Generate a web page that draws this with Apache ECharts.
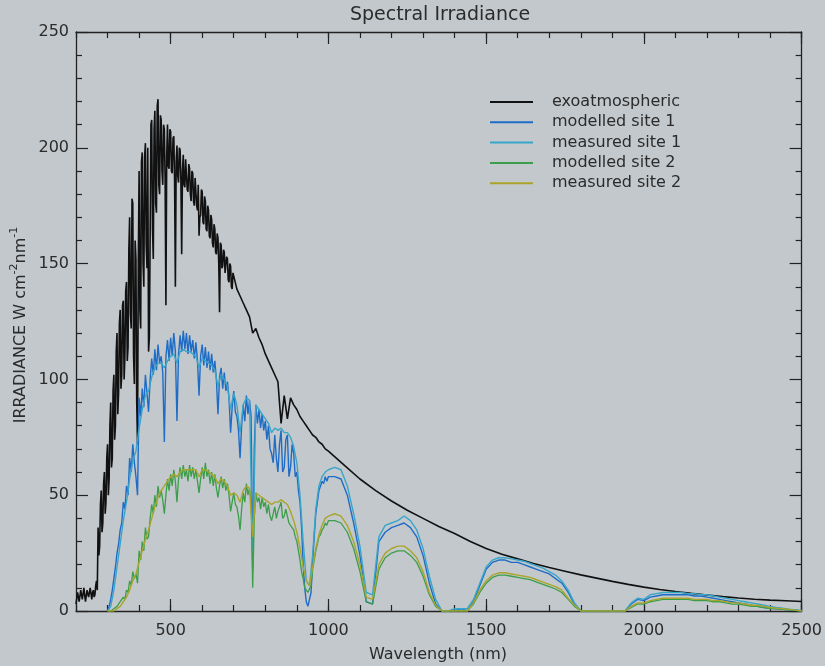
<!DOCTYPE html>
<html>
<head>
<meta charset="utf-8">
<script src="https://cdn.jsdelivr.net/npm/echarts@6/dist/echarts.min.js"></script>
<style>
html,body{margin:0;padding:0;background:#c3c8cc;}
#chart{width:825px;height:666px;}
</style>
</head>
<body>
<div id="chart"></div>
<script>
// ---------- text ----------
const chartTitle = 'Spectral Irradiance';
const xAxisName = 'Wavelength (nm)';
const seriesNames = ['exoatmospheric', 'modelled site 1', 'measured site 1', 'modelled site 2', 'measured site 2'];
const xTickLabels = [500, 1000, 1500, 2000, 2500];
const yTickLabels = [0, 50, 100, 150, 200, 250];

// ---------- exoatmospheric spectrum ----------
const wlExo = [
  200,205,210,215,220,225,230,235,240,245,
  250,252.5,255,257.5,260,262.5,265,267.5,270,272.5,
  275,277.5,280,282.5,285,287.5,290,292.5,295,297.5,
  300,302.5,305,307.5,310,312.5,315,317.5,320,322.5,
  325,327.5,330,332.5,335,337.5,340,342.5,345,347.5,
  350,352.5,355,357.5,360,362.5,365,367.5,370,372.5,
  375,377.5,380,382.5,385,387.5,390,392.5,395,397.5,
  400,402.5,405,407.5,410,412.5,415,417.5,420,422.5,
  425,427.5,430,432.5,435,437.5,440,442.5,445,447.5,
  450,452.5,455,457.5,460,462.5,465,467.5,470,472.5,
  475,477.5,480,482.5,485,487.5,490,492.5,495,497.5,
  500,502.5,505,507.5,510,512.5,515,517.5,520,522.5,
  525,527.5,530,532.5,535,537.5,540,542.5,545,547.5,
  550,552.5,555,557.5,560,562.5,565,567.5,570,572.5,
  575,577.5,580,582.5,585,587.5,590,592.5,595,597.5,
  600,602.5,605,607.5,610,612.5,615,617.5,620,622.5,
  625,627.5,630,632.5,635,637.5,640,642.5,645,647.5,
  650,652.5,655,657.5,660,662.5,665,667.5,670,672.5,
  675,677.5,680,682.5,685,687.5,690,692.5,695,697.5,
  700,710,720,730,740,750,760,770,780,790,
  800,810,820,830,840,850,860,870,880,890,
  900,910,920,930,940,950,960,970,980,990,
  1000,1050,1100,1150,1200,1250,1300,1350,1400,1450,
  1500,1550,1600,1650,1700,1750,1800,1850,1900,1950,
  2000,2050,2100,2150,2200,2250,2300,2350,2400,2450,
  2500
];
const exoatmospheric = [
  3,8,4,9,5,10,4,9,6,10,
  5,8,9,6,7,11,13,9,36,24,
  28,46,52,34,38,55,60,42,47,66,
  72,50,57,80,90,62,66,95,102,74,
  80,112,120,85,94,124,130,96,102,132,
  134,100,110,138,142,108,114,156,170,128,
  122,178,176,110,98,160,152,90,72,150,
  190,130,122,194,198,150,140,196,202,158,
  148,200,112,118,162,210,212,165,152,208,
  216,176,172,218,221,184,180,214,212,190,
  184,210,208,186,132,196,210,192,191,208,
  207,190,189,204,205,186,140,194,201,188,
  185,200,199,186,154,190,197,184,183,195,
  195,182,181,193,191,180,177,190,189,177,
  175,187,187,175,173,184,162,170,171,182,
  181,168,167,179,177,165,164,175,173,162,
  161,171,169,159,157,167,165,155,154,163,
  161,150,129,159,158,148,149,156,155,146,
  146,153,152,143,142,150,149,140,139,146,
  146,139,136,133,130,127,120,122,118,115,
  111,108,105,102,99,81,93,83,92,89,
  87,84,82,80,78,76,75,73,72,70,
  69,63,57,52,47.5,43.5,40,36.5,33.5,30,
  27,24.5,22.5,20.5,18.8,17.2,15.6,14.2,12.8,11.5,
  10.3,9.3,8.4,7.6,6.9,6.2,5.6,5.1,4.7,4.4,
  4.1
];

// ---------- modelled spectra (finer sampling) ----------
const wlModel = [
  300,305,310,315,320,325,330,335,340,345,
  350,355,360,365,370,375,380,385,390,395,
  400,405,410,415,420,425,430,435,440,445,
  450,455,460,465,470,475,480,485,490,495,
  500,505,510,515,520,525,530,535,540,545,
  550,555,560,565,570,575,580,585,590,595,
  600,605,610,615,620,625,630,635,640,645,
  650,655,660,665,670,675,680,685,690,695,
  700,705,710,715,720,725,730,735,740,745,
  750,755,760,765,770,775,780,785,790,795,
  800,805,810,815,820,825,830,835,840,845,
  850,855,860,865,870,875,880,885,890,895,
  900,905,910,915,920,925,930,935,940,945,
  950,955,960,965,970,975,980,985,990,995,
  1000,1020,1040,1060,1080,1100,1120,1140,1160,1180,
  1200,1220,1240,1260,1280,1300,1320,1340,1360,1380,
  1400,1420,1440,1460,1480,1500,1520,1540,1560,1580,
  1600,1620,1640,1660,1680,1700,1720,1740,1760,1780,
  1800,1820,1840,1860,1880,1900,1920,1940,1960,1980,
  2000,2020,2040,2060,2080,2100,2120,2140,2160,2180,
  2200,2220,2240,2260,2280,2300,2320,2340,2360,2380,
  2400,2420,2440,2460,2480,2500
];
const modelledSite1 = [
  0,2,5,9,14,19,25,29,35,38,
  47,44,54,50,66,60,72,64,58,50,
  92,84,96,88,102,94,86,100,109,102,
  113,104,115,107,110,103,73,110,117,108,
  118,110,120,112,82,111,119,112,121,113,
  120,111,119,112,117,109,116,108,93,110,
  115,106,114,105,112,104,111,103,108,100,
  85,101,105,96,103,95,99,92,77,88,
  95,86,84,78,66,80,89,82,93,85,
  91,84,18,70,89,81,87,79,85,78,
  82,74,80,70,68,64,76,66,60,72,
  78,60,62,74,76,58,62,72,68,58,
  60,52,47,36,20,10,4,2,2,8,
  21,32,42,47,52,54,56,55,58,56,
  58,58,57,50,38,24,4,3,30,34,
  36,37,38,36,32,24,12,3,0,0,
  0,1,0,4,11,18,21,22,22,21,
  21,20,19,18,17,16,14,12,8,3,
  0,0,0,0,0,0,0,0,3,5,
  4.5,6,6.5,7,7,7,7,7,6.5,6.5,
  6,5.5,5,4.5,4,3.5,3,2.5,2,1.5,
  1.2,1,0.7,0.5,0.3,0
];
const modelledSite2 = [
  0,0,0,0,1,1,2,2,4,4,
  6,5,9,8,13,11,17,14,16,12,
  26,22,30,26,36,31,32,40,46,42,
  50,45,54,49,52,48,42,50,57,52,
  59,54,61,56,47,57,62,57,63,58,
  61,56,63,58,62,57,61,56,51,57,
  62,57,64,58,61,55,60,54,59,53,
  49,54,58,53,57,52,55,50,43,47,
  51,46,45,41,35,44,51,47,55,50,
  53,48,10,40,51,47,49,44,49,45,
  47,42,46,41,39,42,45,40,43,45,
  47,40,41,44,44,38,37,36,35,32,
  30,26,22,17,14,10,9,8,8,11,
  18,22,26,29,32,33,35,36,38,37,
  39,39,38,34,27,17,4,3,18,23,
  25,26,26,24,21,15,7,2,0,0,
  0,0,0,3,8,12,14.5,15.5,15.5,15,
  14.5,14,13.5,12.5,11.5,10.5,9.5,8,5,2,
  0,0,0,0,0,0,0,0,1.5,3,
  3,4,4.5,5,5,5,5,5,4.5,4.5,
  4.5,4,4,3.5,3,3,2.5,2,2,1.5,
  1,1,0.7,0.5,0.3,0
];

// ---------- measured spectra ----------
const wlMeasured = [
  300,310,320,330,340,350,360,370,380,390,
  400,410,420,430,440,450,460,470,480,490,
  500,510,520,530,540,550,560,570,580,590,
  600,610,620,630,640,650,660,670,680,690,
  700,710,720,730,740,750,760,770,780,790,
  800,810,820,830,840,850,860,870,880,890,
  900,910,920,930,940,950,960,970,980,990,
  1000,1020,1040,1060,1080,1100,1120,1140,1160,1180,
  1200,1220,1240,1260,1280,1300,1320,1340,1360,1380,
  1400,1420,1440,1460,1480,1500,1520,1540,1560,1580,
  1600,1620,1640,1660,1680,1700,1720,1740,1760,1780,
  1800,1820,1840,1860,1880,1900,1920,1940,1960,1980,
  2000,2020,2040,2060,2080,2100,2120,2140,2160,2180,
  2200,2220,2240,2260,2280,2300,2320,2340,2360,2380,
  2400,2420,2440,2460,2480,2500
];
const measuredSite1 = [
  0,2,9,19,29,39,47,57,65,69,
  79,87,93,95,101,105,107,107,105,108,
  110,111,107,112,113,112,112,111,110,105,
  109,108,107,106,104,97,102,100,97,87,
  94,89,77,89,92,91,22,89,87,85,
  83,81,77,79,78,79,77,77,75,71,
  64,50,30,13,11,24,44,54,58,60,
  61,62,61,54,42,28,8,7,32,37,
  38,39,41,39,35,27,15,5,0,0,
  1,1,1,5,12,19,22,23,23,22.5,
  22,21.5,20.5,19.5,18.5,17,15.5,13,9,3.5,
  0,0,0,0,0,0,0,0,3.5,5.5,
  5,7,7.5,8,8,8,8,7.5,7.5,7,
  7,6.5,6,5.5,5,4.5,4,3.5,3,2.5,
  2,1.5,1.2,0.8,0.5,0.2
];
const measuredSite2 = [
  0,0,0,1,2,4,6,9,13,16,
  21,26,31,35,40,45,49,52,54,56,
  58,59,58,60,61,61,61,61,61,58,
  61,61,60,59,58,55,57,56,54,50,
  51,50,47,52,54,53,32,51,50,49,
  48,47,46,47,47,48,47,46,43,39,
  34,27,19,13,11,19,27,33,37,40,
  41,42,41,37,30,20,6,5,20,25,
  27,28,28,26,23,17,8,2.5,0,0,
  0,0,0,3.5,9,13,15.5,16.5,16.5,16,
  15.5,15,14.5,13.5,12.5,11.5,10.5,9,5.5,2.5,
  0,0,0,0,0,0,0,0,2,3.5,
  3.5,4.5,5,5.5,5.5,5.5,5.5,5.5,5,5,
  5,4.5,4.5,4,3.5,3.5,3,2.5,2.5,2,
  1.5,1.2,1,0.7,0.4,0
];

// ---------- build ----------
const font = 'DejaVu Sans';
const ink = '#2b2b2b';
const colors = ['#111111', '#1f6cc6', '#38a6c8', '#3c9e4a', '#aaa52a'];
const widths = [1.6, 1.4, 1.4, 1.3, 1.4];
const seriesX = [wlExo, wlModel, wlMeasured, wlModel, wlMeasured];
const seriesY = [exoatmospheric, modelledSite1, measuredSite1, modelledSite2, measuredSite2];

const pairs = (xs, ys) => xs.map((x, i) => [x, ys[i]]);

const axisLineStyle = { color: '#222', width: 1.3 };

function xAx(position, major, labels) {
  const a = {
    type: 'value', position: position, min: 200, max: 2500,
    splitLine: { show: false },
    axisLine: { show: !major, onZero: false, lineStyle: axisLineStyle },
    axisTick: { show: true, inside: true, length: major ? 12 : 6, lineStyle: { color: '#222', width: 1.2 } },
    axisLabel: { show: false }
  };
  if (major) {
    a.axisTick.customValues = xTickLabels;
    if (labels) {
      a.axisLabel = { show: true, customValues: xTickLabels, margin: 12, fontFamily: font, fontSize: 16, color: ink,
        formatter: v => String(v) };
    }
  } else {
    a.interval = 100;
  }
  return a;
}

function yAx(position, labels) {
  return {
    type: 'value', position: position, min: 0, max: 250, interval: 50,
    splitLine: { show: false },
    axisLine: { show: true, onZero: false, lineStyle: axisLineStyle },
    axisTick: { show: true, inside: true, length: 12, lineStyle: { color: '#222', width: 1.2 } },
    minorTick: { show: true, splitNumber: 5, length: 6, lineStyle: { color: '#222', width: 1.2 } },
    axisLabel: labels ? {
      show: true, margin: 7, fontFamily: font, fontSize: 16, color: ink,
      formatter: v => (yTickLabels.indexOf(v) >= 0 ? String(v) : '')
    } : { show: false }
  };
}

const option = {
  backgroundColor: '#c3c8cc',
  animation: false,
  grid: { left: 76, right: 19, top: 32, bottom: 55, containLabel: false },
  xAxis: [xAx('bottom', false), xAx('bottom', true, true), xAx('top', false), xAx('top', true, false)],
  yAxis: [yAx('left', true), yAx('right', false)],
  legend: {
    orient: 'vertical', left: 485, top: 87,
    itemWidth: 43, itemHeight: 2, itemGap: 0.3, icon: 'rect',
    textStyle: { fontFamily: font, fontSize: 16, color: ink, lineHeight: 20, padding: [0, 0, 0, 14] },
    data: seriesNames
  },
  graphic: [
    { type: 'text', x: 440, y: 15, style: { text: chartTitle, fontFamily: font, fontSize: 19, fill: ink, align: 'center', verticalAlign: 'middle' } },
    { type: 'text', x: 438, y: 655, style: { text: xAxisName, fontFamily: font, fontSize: 16, fill: ink, align: 'center', verticalAlign: 'middle' } },
    { type: 'text', x: 21, y: 325, rotation: Math.PI / 2,
      style: { text: 'IRRADIANCE W cm{sup|-2}nm{sup|-1}', fontFamily: font, fontSize: 16, fill: ink,
        align: 'center', verticalAlign: 'middle', lineHeight: 24,
        rich: { sup: { fontFamily: font, fontSize: 11, fill: ink, verticalAlign: 'top', lineHeight: 11 } } } }
  ],
  series: seriesNames.map((name, i) => ({
    name: name, type: 'line', xAxisIndex: 0, yAxisIndex: 0,
    data: pairs(seriesX[i], seriesY[i]),
    symbol: 'none', showSymbol: false, sampling: null,
    lineStyle: { color: colors[i], width: widths[i] },
    itemStyle: { color: colors[i] },
    z: 2 + i
  }))
};

const chart = echarts.init(document.getElementById('chart'), null, { renderer: 'canvas' });
chart.setOption(option);
</script>
</body>
</html>
